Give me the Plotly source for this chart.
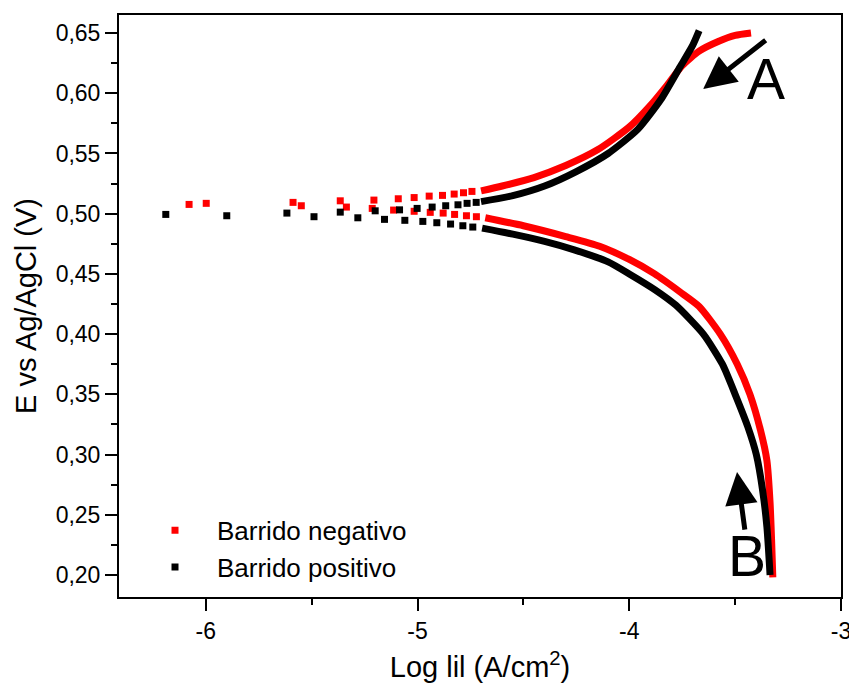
import plotly.graph_objects as go

# Scattered points close to the corrosion potential (log|i|, E)
red_sparse_logi = [-6.079, -5.998, -5.588, -5.549, -5.365, -5.336, -5.206, -5.214, -5.091, -5.113,
                   -5.016, -5.016, -4.945, -4.940, -4.882, -4.879, -4.827, -4.825, -4.783, -4.769,
                   -4.743, -4.722]
red_sparse_e = [0.5077, 0.5086, 0.5094, 0.5066, 0.5107, 0.5055, 0.5113, 0.5044, 0.5124, 0.5030,
                0.5134, 0.5020, 0.5146, 0.5011, 0.5152, 0.5005, 0.5163, 0.4994, 0.5174, 0.4983,
                0.5185, 0.4975]
black_sparse_logi = [-6.189, -5.901, -5.617, -5.489, -5.365, -5.282, -5.200, -5.156, -5.085, -5.060,
                     -5.002, -4.975, -4.931, -4.909, -4.867, -4.844, -4.809, -4.786, -4.766, -4.739,
                     -4.723]
black_sparse_e = [0.4994, 0.4983, 0.5005, 0.4975, 0.5013, 0.4966, 0.5024, 0.4953, 0.5032, 0.4945,
                  0.5044, 0.4936, 0.5055, 0.4925, 0.5066, 0.4914, 0.5074, 0.4900, 0.5086, 0.4889,
                  0.5094]

# Anodic branches
red_anodic_logi = [-4.70, -4.60, -4.45, -4.30, -4.15, -4.00, -3.90, -3.82, -3.75, -3.67, -3.58, -3.50, -3.425]
red_anodic_e = [0.519, 0.523, 0.530, 0.540, 0.553, 0.572, 0.590, 0.607, 0.623, 0.635, 0.643, 0.648, 0.650]
black_anodic_logi = [-4.70, -4.55, -4.40, -4.25, -4.10, -3.96, -3.85, -3.76, -3.70, -3.67]
black_anodic_e = [0.5100, 0.515, 0.523, 0.535, 0.550, 0.570, 0.595, 0.622, 0.640, 0.652]

# Cathodic branches
red_cathodic_logi = [-4.68, -4.50, -4.30, -4.14, -4.00, -3.88, -3.76, -3.67, -3.57, -3.49, -3.43, -3.38,
                     -3.35, -3.335, -3.328, -3.322]
red_cathodic_e = [0.4966, 0.490, 0.481, 0.473, 0.462, 0.450, 0.435, 0.423, 0.400, 0.375, 0.350, 0.320,
                  0.295, 0.260, 0.230, 0.198]
black_cathodic_logi = [-4.695, -4.55, -4.40, -4.26, -4.10, -4.00, -3.88, -3.78, -3.65, -3.56, -3.50, -3.44,
                       -3.40, -3.37, -3.35, -3.335]
black_cathodic_e = [0.488, 0.483, 0.477, 0.470, 0.460, 0.450, 0.437, 0.424, 0.400, 0.375, 0.350, 0.323,
                    0.300, 0.270, 0.240, 0.200]

series_names = ["Barrido negativo", "Barrido positivo"]
series_colors = ["#ff0000", "#000000"]

x_tickvals = [-6, -5, -4, -3]
x_ticktext = ["-6", "-5", "-4", "-3"]
y_tickvals = [0.20, 0.25, 0.30, 0.35, 0.40, 0.45, 0.50, 0.55, 0.60, 0.65]
y_ticktext = ["0,20", "0,25", "0,30", "0,35", "0,40", "0,45", "0,50", "0,55", "0,60", "0,65"]

FONT = "Liberation Sans, Arial, sans-serif"

fig = go.Figure()

branches = [
    (red_anodic_logi, red_anodic_e, red_cathodic_logi, red_cathodic_e, red_sparse_logi, red_sparse_e),
    (black_anodic_logi, black_anodic_e, black_cathodic_logi, black_cathodic_e, black_sparse_logi, black_sparse_e),
]

for name, color, (ax_, ay_, cx_, cy_, sx_, sy_) in zip(series_names, series_colors, branches):
    for bx, by in ((ax_, ay_), (cx_, cy_)):
        fig.add_trace(go.Scatter(
            x=bx, y=by, mode="lines",
            line=dict(color=color, width=7, shape="spline", smoothing=0.6),
            showlegend=False, hoverinfo="skip",
        ))
    fig.add_trace(go.Scatter(
        x=sx_, y=sy_, mode="markers", name=name,
        marker=dict(symbol="square", size=7, color=color, line=dict(width=0)),
        showlegend=True,
    ))

axis_common = dict(
    showgrid=False, zeroline=False, showline=True, linecolor="black", linewidth=2,
    mirror=True, ticks="outside", ticklen=12, tickwidth=2, tickcolor="black",
    tickfont=dict(family=FONT, size=23, color="black"), automargin=False,
    ticklabeloverflow="allow",
)

fig.update_xaxes(
    range=[-6.41, -3.0], tickmode="array", tickvals=x_tickvals, ticktext=x_ticktext,
    minor=dict(ticks="outside", ticklen=6, tickwidth=2, tickcolor="black", dtick=0.5),
    title=dict(text="Log lil (A/cm<sup>2</sup>)", font=dict(family=FONT, size=29, color="black"), standoff=14),
    **axis_common,
)
fig.update_yaxes(
    range=[0.1817, 0.665], tickmode="array", tickvals=y_tickvals, ticktext=y_ticktext,
    minor=dict(ticks="outside", ticklen=6, tickwidth=2, tickcolor="black", dtick=0.025, tick0=0.2),
    title=dict(text="E vs Ag/AgCl (V)", font=dict(family=FONT, size=29, color="black"), standoff=10),
    **axis_common,
)

# Sweep-direction arrows and branch labels
fig.add_annotation(
    x=-3.651, y=0.6035, ax=64, ay=-50, xref="x", yref="y", axref="pixel", ayref="pixel",
    showarrow=True, arrowhead=2, arrowsize=1.3, arrowwidth=5, arrowcolor="black", text="",
)
fig.add_annotation(
    x=-3.491, y=0.2854, ax=8, ay=59, xref="x", yref="y", axref="pixel", ayref="pixel",
    showarrow=True, arrowhead=2, arrowsize=1.3, arrowwidth=5, arrowcolor="black", text="",
)
fig.add_annotation(
    x=-3.354, y=0.612, xref="x", yref="y", text="A", showarrow=False,
    font=dict(family=FONT, size=57, color="black"),
)
fig.add_annotation(
    x=-3.443, y=0.2156, xref="x", yref="y", text="B", showarrow=False,
    font=dict(family=FONT, size=57, color="black"),
)

fig.update_layout(
    width=849, height=690,
    margin=dict(l=119, r=8, t=15, b=93, autoexpand=False),
    paper_bgcolor="white", plot_bgcolor="white",
    font=dict(family=FONT, color="black"),
    legend=dict(
        x=0.0194, y=0.155, xanchor="left", yanchor="top",
        bgcolor="rgba(0,0,0,0)", borderwidth=0,
        font=dict(family=FONT, size=26, color="black"),
        itemwidth=74, tracegroupgap=0,
    ),
    showlegend=True,
)

fig.write_html("out.html")
